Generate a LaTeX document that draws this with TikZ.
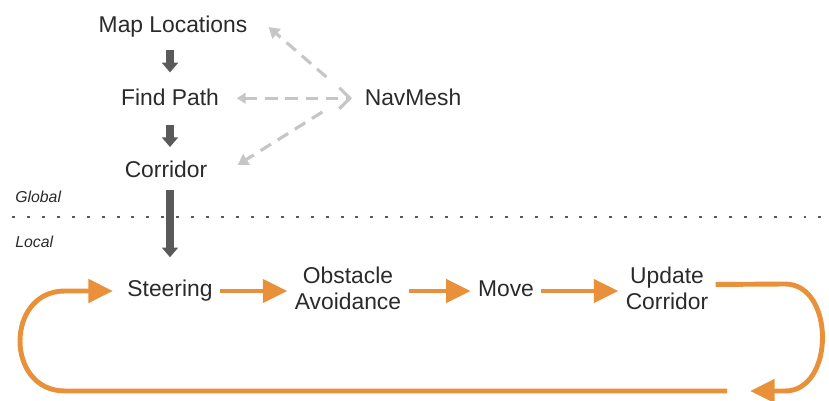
\documentclass[tikz,border=0pt]{standalone}
\usepackage{fontspec}
\setmainfont{Liberation Sans}
\usetikzlibrary{arrows.meta,calc}
\definecolor{flowgray}{HTML}{5A5A5A}
\definecolor{meshgray}{HTML}{C6C6C6}
\definecolor{steerorange}{HTML}{E8913A}
\definecolor{labelgray}{HTML}{2A2A2A}

\begin{document}
\begin{tikzpicture}[x=0.02cm, y=-0.02cm,
    stage/.style={text=labelgray, font=\fontsize{13}{14.7}\selectfont, inner sep=4pt, text height=9.3pt, text depth=2.7pt},
    stagetwo/.style={text=labelgray, font=\fontsize{13}{14.7}\selectfont, inner sep=4pt, align=center},
    layer/.style={text=labelgray, font=\fontsize{9}{10}\selectfont\itshape, anchor=base west, inner sep=0pt},
    flow/.style={draw=flowgray, line width=4pt, -{Triangle[width=9pt,length=5.5pt]}},
    mesh/.style={draw=meshgray, line width=1.8pt, dash pattern=on 7pt off 4.5pt},
    steer/.style={draw=steerorange, line width=2.8pt, -{Triangle[width=13pt,length=14pt]}},
    divider/.style={draw=flowgray, line width=1.7pt, dash pattern=on 1.7pt off 6.8pt}]
      \useasboundingbox (0,0) rectangle (829,401);

      \node[stage] (ml) at (173,27) {Map Locations};
      \node[stage] (fp) at (170,100) {Find Path};
      \node[stage] (cr) at (166,172) {Corridor};
      \node[stage] (nm) at (413,100) {NavMesh};

      \node[layer] (lglobal) at (15,203) {Global};
      \node[layer] (llocal) at (15,248) {Local};
      \draw[divider] (12,217) -- (829,217);

      \node[stage] (st) at (170,291) {Steering};
      \node[stagetwo] (oa) at (348,288) {Obstacle\\Avoidance};
      \node[stage] (mv) at (506,291) {Move};
      \node[stagetwo] (uc) at (667,288) {Update\\Corridor};
      \coordinate (turn) at (750,391);
      \coordinate (back) at (727,391);

      \draw[flow, shorten <=3pt, shorten >=5.5pt] (ml.south -| fp) -- (fp.north);
      \draw[flow, shorten <=4pt, shorten >=4pt] (fp.south) -- (fp.south |- cr.north);
      \draw[flow, shorten >=9pt] (cr.south -| st) -- (st.north);

      \draw[mesh, -{Triangle[width=7pt,length=6pt]}] ($(nm.west)+(-31,-23)$) -- ($(ml.east)+(14,0)$);
      \draw[mesh, {Triangle[width=6pt,length=5pt]}-{Straight Barb[width=12pt,length=6pt]}, shorten <=6pt, shorten >=3pt] ([yshift=1pt]fp.east) -- ([yshift=1pt]nm.west);
      \draw[mesh, -{Triangle[width=7pt,length=6pt]}] ($(nm.west)+(-35,12)$) -- ($(cr.east)+(23,-7)$);

      \draw[steer] (st.east) -- (st.east -| oa.west);
      \draw[steer] (oa.east |- mv) -- (mv.west);
      \draw[steer] (mv.east) -- (mv.east -| uc.west);
      \draw[steer] ([yshift=2pt]uc.east) -- (785,284) .. controls (835,284) and (835,391) .. (785,391) -- (turn);
      \draw[steer, shorten >=4pt] (back) -- (65,391) .. controls (5,391) and (5,291) .. (65,291) -- (st.west);
    \end{tikzpicture}
\end{document}
